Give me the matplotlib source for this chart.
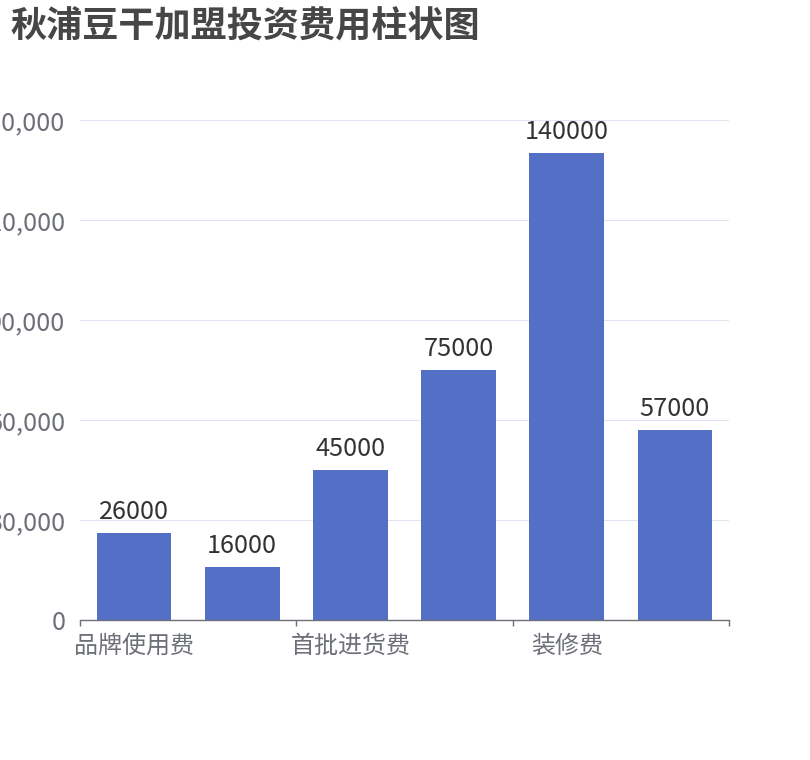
import matplotlib
matplotlib.use('Agg')
import matplotlib.pyplot as plt
from matplotlib.ticker import FuncFormatter, FixedLocator

plt.rcParams['font.family'] = ['Noto Sans CJK SC', 'DejaVu Sans']

# data; the 2nd, 4th and 6th names are hidden there
categories = ['品牌使用费', '保证金', '首批进货费', '设备费', '装修费', '流动资金']
values = [26000, 16000, 45000, 75000, 140000, 57000]
yticks = [0, 30000, 60000, 90000, 120000, 150000]
title = '秋浦豆干加盟投资费用柱状图'

W, H = 810, 760
fig = plt.figure(figsize=(W / 100, H / 100), dpi=100)
ax = fig.add_axes([80 / W, (H - 620) / H, (729 - 80) / W, 500 / H])

xs = list(range(len(categories)))
bars = ax.bar(xs, values, width=0.69, color='#5470C6', zorder=3)

for x, v in zip(xs, values):
    ax.annotate(str(v), (x, v), xytext=(0, 8), textcoords='offset pixels',
                ha='center', va='bottom', fontsize=18.2, color='#333333')

ax.set_xlim(-0.5, len(categories) - 0.5)
ax.set_ylim(0, yticks[-1])
ax.set_yticks(yticks)
ax.yaxis.set_major_formatter(FuncFormatter(lambda v, p: f'{int(v):,}'))
ax.grid(axis='y', color='#E0E6F1', linewidth=0.75, zorder=0)
ax.tick_params(axis='y', length=0, pad=10.5, labelsize=18.2, labelcolor='#6E7079')

# ticks on category boundaries, labels on every other category
ax.xaxis.set_major_locator(FixedLocator([-0.5, 1.5, 3.5, 5.5]))
ax.set_xticklabels([])
ax.xaxis.set_minor_locator(FixedLocator(xs[::2]))
ax.set_xticklabels(categories[::2], minor=True)
ax.tick_params(axis='x', which='major', length=4, width=1, color='#6E7079', direction='out')
ax.tick_params(axis='x', which='minor', length=0, pad=9, labelsize=17.3, labelcolor='#6E7079')

for s in ['top', 'right', 'left']:
    ax.spines[s].set_visible(False)
ax.spines['bottom'].set_color('#6E7079')
ax.spines['bottom'].set_linewidth(1)
ax.spines['bottom'].set_zorder(4)

fig.text(10 / W, 1 - 27 / H, title, fontsize=26, fontweight='bold',
         color='#464646', ha='left', va='center')

fig.savefig('out.png', dpi=100)
